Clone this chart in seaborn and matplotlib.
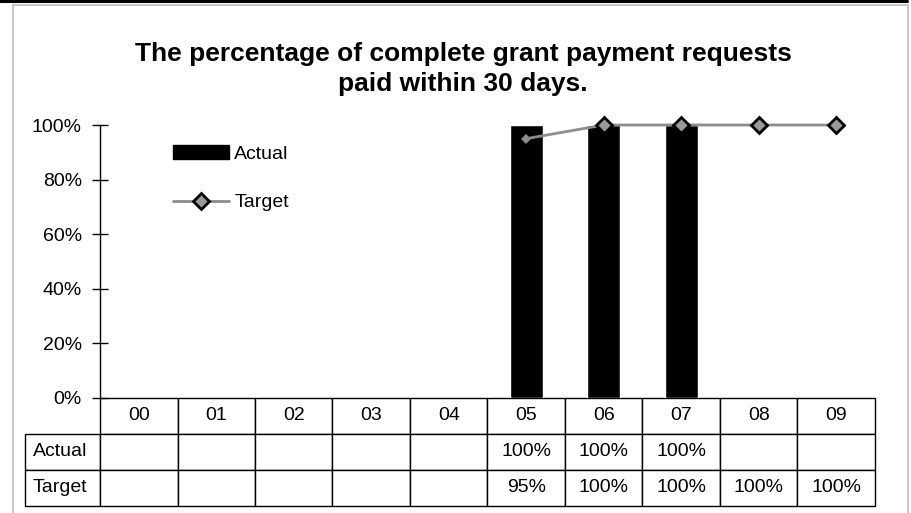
import matplotlib
matplotlib.use('Agg')
import matplotlib.pyplot as plt
import numpy as np
import pandas as pd
import seaborn as sns
from matplotlib.patches import Patch, Rectangle
from matplotlib.lines import Line2D

W, H = 912, 513

YEARS = ['00', '01', '02', '03', '04', '05', '06', '07', '08', '09']
ACTUAL = [None, None, None, None, None, 1.00, 1.00, 1.00, None, None]
TARGET = [None, None, None, None, None, 0.95, 1.00, 1.00, 1.00, 1.00]
Y_TICKS = [0, 0.2, 0.4, 0.6, 0.8, 1.0]
TITLE = 'The percentage of complete grant payment requests\npaid within 30 days.'

LINE_GREY = '#8c8c8c'
MARKER_GREY = '#999999'


def fmt_pct(v):
    return '' if v is None else f'{v:.0%}'


def px(x, y):
    # pixel position (from top left) -> figure fraction
    return x / W, 1 - y / H


def main():
    sns.set_style('white')
    plt.rcParams['font.family'] = ['Liberation Sans', 'DejaVu Sans']
    plt.rcParams['text.color'] = 'black'
    plt.rcParams['ytick.color'] = 'black'
    plt.rcParams['ytick.labelcolor'] = 'black'

    df = pd.DataFrame({'year': YEARS, 'actual': ACTUAL, 'target': TARGET})
    df['actual'] = pd.to_numeric(df['actual'])
    df['target'] = pd.to_numeric(df['target'])
    actual_df = df.dropna(subset=['actual'])
    target_df = df.dropna(subset=['target'])

    fig = plt.figure(figsize=(W / 100, H / 100), dpi=100)
    left, bottom = px(100, 398)
    ax = fig.add_axes([left, bottom, 775 / W, 273 / H])

    sns.barplot(data=actual_df, x='year', y='actual', order=YEARS,
                color='black', saturation=1, width=0.43, ax=ax)

    # target line with small markers, then the bigger outlined markers on top
    sns.pointplot(data=target_df, x='year', y='target', order=YEARS,
                  errorbar=None, color=LINE_GREY, markers='D',
                  linewidth=2, markersize=5, markeredgewidth=0,
                  markerfacecolor=LINE_GREY, ax=ax)
    sns.pointplot(data=target_df.iloc[1:], x='year', y='target', order=YEARS,
                  errorbar=None, color=LINE_GREY, markers='D', linestyles='none',
                  markersize=8, markeredgewidth=2, markeredgecolor='black',
                  markerfacecolor=MARKER_GREY, ax=ax)
    for ln in ax.lines:
        ln.set_clip_on(False)

    ax.set_xlim(-0.5, len(YEARS) - 0.5)
    ax.set_ylim(0, 1)
    ax.set_yticks(Y_TICKS)
    ax.set_yticklabels([f'{t:.0%}' for t in Y_TICKS], fontsize=14)
    ax.tick_params(axis='y', direction='inout', length=12, width=1,
                   color='black', labelcolor='black', pad=7, left=True)
    ax.tick_params(axis='x', bottom=False, labelbottom=False)
    ax.set_xlabel('')
    ax.set_ylabel('')
    for side in ['top', 'right', 'bottom']:
        ax.spines[side].set_visible(False)
    ax.spines['left'].set_color('black')
    ax.spines['left'].set_linewidth(1)

    # data table under the plot
    rows = [['Actual'] + [fmt_pct(v) for v in ACTUAL],
            ['Target'] + [fmt_pct(v) for v in TARGET]]
    label_w = 75 / 775
    tbl = ax.table(cellText=rows, colLabels=[''] + YEARS,
                   colWidths=[label_w] + [1 / len(YEARS)] * len(YEARS),
                   cellLoc='center',
                   bbox=[-label_w, -108 / 273, 1 + label_w, 108 / 273])
    tbl.auto_set_font_size(False)
    tbl.set_fontsize(14)
    for (r, c), cell in tbl.get_celld().items():
        cell.set_edgecolor('black')
        cell.set_linewidth(1)
        cell.get_text().set_color('black')
        if c == 0:
            cell.get_text().set_horizontalalignment('left')
            if r == 0:
                cell.visible_edges = 'open'

    handles = [Patch(facecolor='black', edgecolor='black'),
               Line2D([], [], color=LINE_GREY, linewidth=2, marker='D',
                      markersize=8, markerfacecolor=MARKER_GREY,
                      markeredgecolor='black', markeredgewidth=2)]
    ax.legend(handles, ['Actual', 'Target'], loc='upper left',
              bbox_to_anchor=px(173, 145), bbox_transform=fig.transFigure,
              frameon=False, fontsize=14, handlelength=2.9,
              handletextpad=0.25, labelspacing=1.6, borderpad=0,
              borderaxespad=0)

    tx, ty = px(463, 42)
    fig.text(tx, ty, TITLE, ha='center', va='top', fontsize=19,
             fontweight='bold', linespacing=1.32, color='black')

    # chart frame and the black rule along the top
    x0, y0 = px(13, 513 + 5)
    x1, y1 = px(908, 5)
    fig.patches.append(Rectangle((x0, y0), x1 - x0, y1 - y0,
                                 transform=fig.transFigure, fill=False,
                                 edgecolor='#c8c8c8', linewidth=1.5))
    fig.lines.append(Line2D([0, 907 / W], [1 - 1.2 / H] * 2,
                            transform=fig.transFigure, color='black',
                            linewidth=2.2))

    fig.savefig('out.png', dpi=100)


if __name__ == '__main__':
    main()
